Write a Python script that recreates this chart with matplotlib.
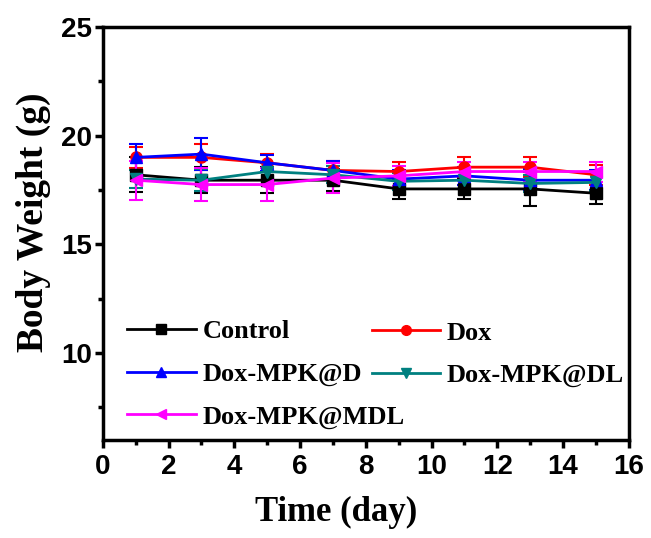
import matplotlib
matplotlib.use("Agg")
import matplotlib.pyplot as plt
from matplotlib.ticker import MultipleLocator
from matplotlib.lines import Line2D

days = [1, 3, 5, 7, 9, 11, 13, 15]
labels = ["Control", "Dox", "Dox-MPK@D", "Dox-MPK@DL", "Dox-MPK@MDL"]
control = [18.2, 17.95, 17.95, 17.95, 17.55, 17.55, 17.55, 17.35]
control_err = [0.8, 0.6, 0.6, 0.5, 0.45, 0.45, 0.8, 0.5]
dox = [19.0, 19.0, 18.75, 18.4, 18.35, 18.55, 18.55, 18.2]
dox_err = [0.5, 0.6, 0.4, 0.45, 0.45, 0.45, 0.45, 0.45]
mpk_d = [19.0, 19.15, 18.75, 18.4, 18.0, 18.15, 17.95, 17.95]
mpk_d_err = [0.6, 0.75, 0.38, 0.45, 0.4, 0.4, 0.5, 0.45]
mpk_dl = [18.0, 17.95, 18.35, 18.2, 17.9, 17.95, 17.8, 17.85]
mpk_dl_err = [0.4, 0.5, 0.4, 0.4, 0.4, 0.4, 0.4, 0.4]
mpk_mdl = [17.95, 17.75, 17.75, 18.05, 18.15, 18.35, 18.35, 18.35]
mpk_mdl_err = [0.9, 0.75, 0.75, 0.7, 0.45, 0.45, 0.45, 0.46]

series = [control, dox, mpk_d, mpk_dl, mpk_mdl]
errs = [control_err, dox_err, mpk_d_err, mpk_dl_err, mpk_mdl_err]
colors = ["#000000", "#FF0000", "#0000FF", "#008080", "#FF00FF"]
markers = ["s", "o", "^", "v", "<"]

fig = plt.figure(figsize=(6.51, 5.38), dpi=100)
ax = fig.add_axes([0.158, 0.182, 0.808, 0.768])

handles = []
for y, e, c, m, lab in zip(series, errs, colors, markers, labels):
    ax.errorbar(days, y, yerr=e, color=c, marker=m, markersize=8, linewidth=2,
                elinewidth=1.5, capsize=5, capthick=1.5)
    handles.append(Line2D([], [], color=c, marker=m, markersize=7, linewidth=2, label=lab))

ax.set_xlim(0, 16)
ax.set_ylim(6, 25)
ax.xaxis.set_major_locator(MultipleLocator(2))
ax.xaxis.set_minor_locator(MultipleLocator(1))
ax.set_yticks([10, 15, 20, 25])
ax.yaxis.set_minor_locator(MultipleLocator(2.5))

for s in ax.spines.values():
    s.set_linewidth(2.5)
ax.tick_params(which="major", direction="out", length=6, width=2.5, top=False, right=False)
ax.tick_params(which="minor", direction="out", length=3.5, width=2.5, top=False, right=False)

for t in ax.get_xticklabels() + ax.get_yticklabels():
    t.set_fontfamily("Liberation Sans")
    t.set_fontweight("bold")
    t.set_fontsize(20)
ax.tick_params(axis="x", pad=4)
ax.tick_params(axis="y", pad=2)

ax.set_xlabel("Time (day)", fontdict=dict(family="Liberation Serif", weight="bold", size=25))
ax.xaxis.set_label_coords(0.443, -0.135)
ax.set_ylabel("Body Weight (g)", fontdict=dict(family="Liberation Serif", weight="bold", size=27))
ax.yaxis.set_label_coords(-0.098, 0.528)

legprops = dict(family="Liberation Serif", weight="bold", size=19)
common = dict(loc="center left", frameon=False, prop=legprops, handlelength=2.6,
              handletextpad=0.25, labelspacing=0.72, borderaxespad=0.0, borderpad=0.4)
leg1 = ax.legend([handles[0], handles[2], handles[4]], [labels[0], labels[2], labels[4]],
                 bbox_to_anchor=(0.026, 0.159), **common)
ax.add_artist(leg1)
leg2 = ax.legend([handles[1], handles[3]], [labels[1], labels[3]],
                 bbox_to_anchor=(0.491, 0.208), **common)

fig.savefig("out.png", dpi=100)
